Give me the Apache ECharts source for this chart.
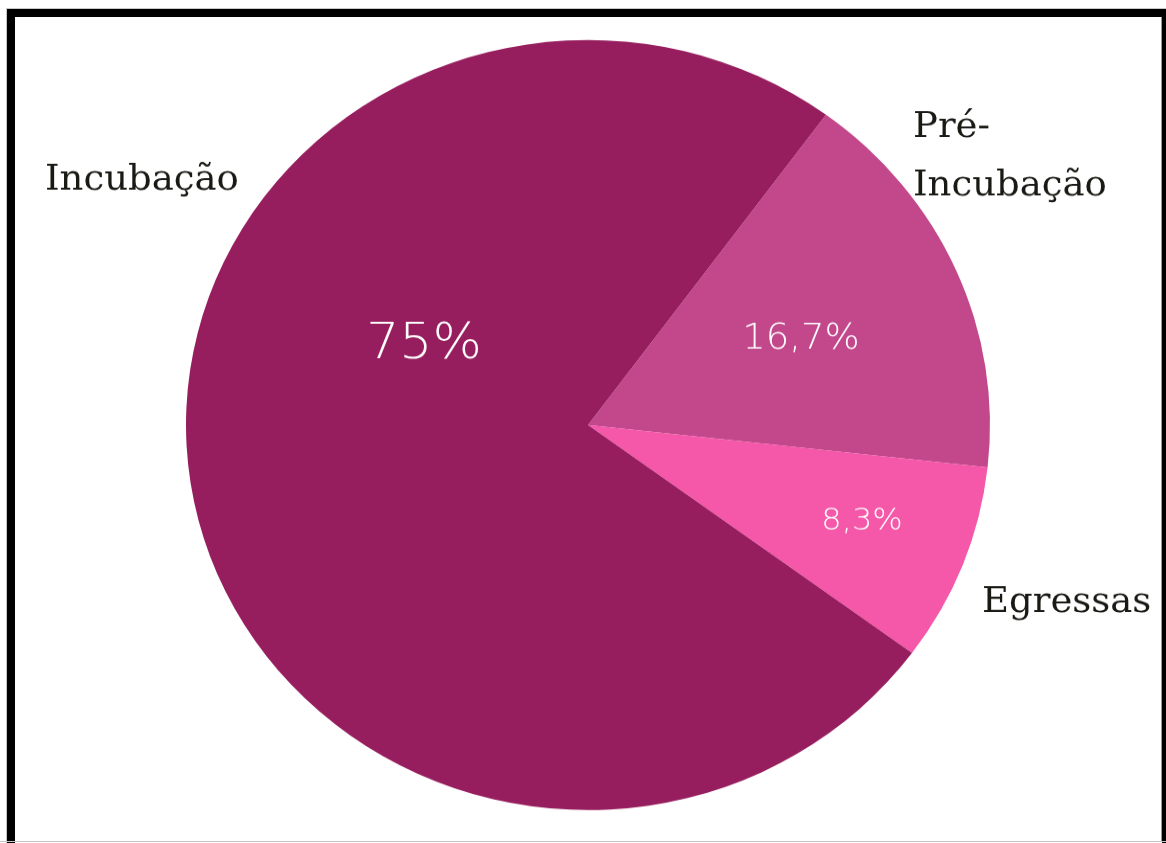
<!DOCTYPE html>
<html lang="pt">
<head>
<meta charset="utf-8">
<title>Distribuição por fase</title>
<script src="https://cdn.jsdelivr.net/npm/echarts@6/dist/echarts.min.js"></script>
<style>
  html, body { margin: 0; padding: 0; background: #fff; }
  #page { position: relative; width: 1166px; height: 843px; overflow: hidden; background: #fff; }
  #chart { position: absolute; left: 0; top: 0; width: 1166px; transform-origin: 0 0; }
  #frame {
    position: absolute; left: 7px; top: 9px; width: 1147px; height: 832px;
    border: 8px solid #000; border-bottom: none; pointer-events: none;
    box-shadow: -1px -1px 0 #c8c8c8;
  }
  #edge { position: absolute; left: 1161px; top: 17px; width: 1px; height: 824px; background: #9a9a9a; }
  #base { position: absolute; left: 0; top: 841px; width: 1166px; height: 1px; background: #c4c4c4; }
</style>
</head>
<body>
<div id="page">
  <div id="chart"></div>
  <div id="frame"></div>
  <div id="edge"></div>
  <div id="base"></div>
</div>
<script>
// Phases of the programme and how many participants are in each
const categories = ['Pré-Incubação', 'Egressas', 'Incubação'];
const counts = [2, 1, 9];

// Slice fills, in the same order as the categories
const sliceColors = ['#C2478B', '#F557A9', '#971E5E'];

// Where each label sits on the page (px): percentage inside, name outside
const pctLabelPos = [[801, 339], [862, 522], [424, 345]];
const pctLabelSize = [37, 32, 52];
const nameLabelPos = [[913, 157], [982, 603], [45, 180]];

// The pie is drawn slightly flattened vertically
const SQUASH = 385 / 402;
const chartEl = document.getElementById('chart');
chartEl.style.height = (843 / SQUASH) + 'px';
chartEl.style.transform = 'scaleY(' + SQUASH + ')';

const chart = echarts.init(chartEl, null, { renderer: 'canvas' });

const seriesData = categories.map((name, i) => ({
  name: name,
  value: counts[i],
  itemStyle: { color: sliceColors[i] }
}));

const center = [588, 425 / SQUASH];
const radius = 402;
const startAngle = 53.7;

chart.setOption({
  animation: false,
  backgroundColor: '#fff',
  series: [
    {
      // slices with their share written inside
      type: 'pie',
      center: center,
      radius: radius,
      startAngle: startAngle,
      clockwise: true,
      silent: true,
      percentPrecision: 1,
      itemStyle: { borderWidth: 0 },
      label: {
        show: true,
        position: 'inside',
        color: '#fff',
        fontFamily: '"DejaVu Sans", sans-serif',
        fontWeight: 200,
        overflow: 'none',
        formatter: p => String(p.percent).replace('.', ',') + '%'
      },
      labelLine: { show: false },
      labelLayout: p => ({
        x: pctLabelPos[p.dataIndex][0],
        y: pctLabelPos[p.dataIndex][1] / SQUASH,
        align: 'center',
        verticalAlign: 'middle'
      }),
      data: seriesData.map((d, i) => Object.assign({}, d, {
        label: { fontSize: pctLabelSize[i] }
      }))
    },
    {
      // phase names around the pie
      type: 'pie',
      center: center,
      radius: radius,
      startAngle: startAngle,
      clockwise: true,
      silent: true,
      itemStyle: { color: 'rgba(0,0,0,0)', borderWidth: 0 },
      label: {
        show: true,
        position: 'outside',
        alignTo: 'none',
        overflow: 'none',
        color: '#1a1a15',
        fontFamily: '"DejaVu Serif", serif',
        fontSize: 37,
        lineHeight: 61,
        formatter: p => p.name.replace('-', '-\n')
      },
      labelLine: { show: false },
      labelLayout: p => ({
        x: nameLabelPos[p.dataIndex][0],
        y: nameLabelPos[p.dataIndex][1] / SQUASH,
        align: 'left',
        verticalAlign: 'middle'
      }),
      data: seriesData.map(d => ({ name: d.name, value: d.value }))
    }
  ]
});
</script>
</body>
</html>
